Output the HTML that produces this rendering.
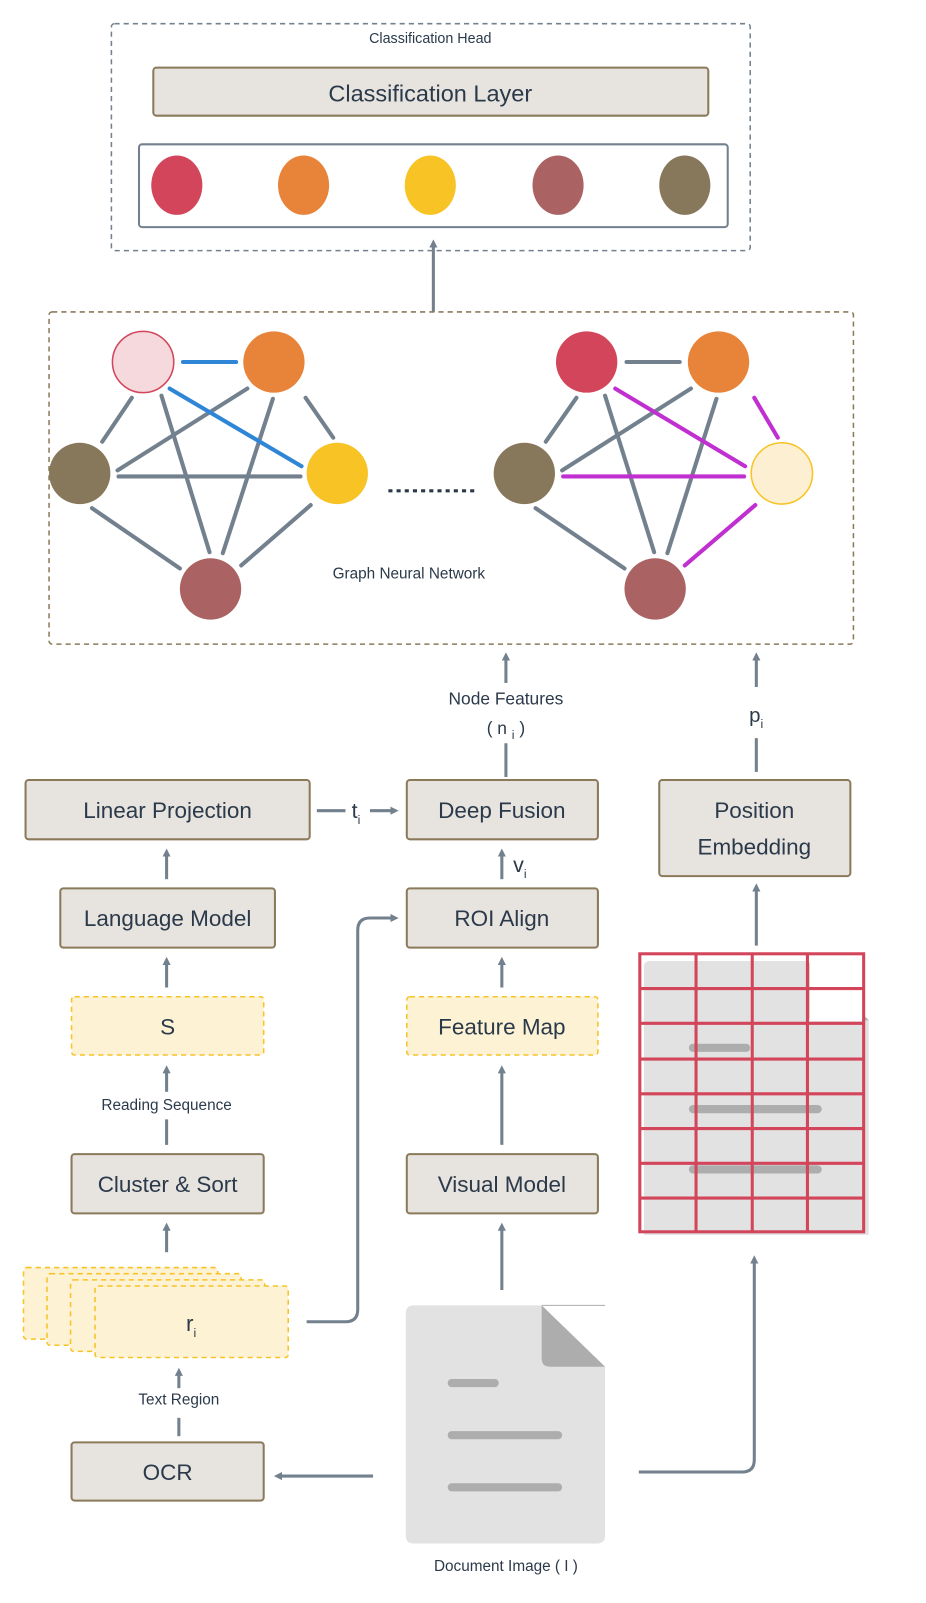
<!DOCTYPE html>
<html><head><meta charset="utf-8"><style>
html,body{margin:0;padding:0;background:#fff;}
svg{display:block;}
text{font-family:"Liberation Sans",sans-serif;fill:#2b3a4a;}
</style></head><body>
<svg width="926" height="1603" viewBox="0 0 906 1568" xmlns="http://www.w3.org/2000/svg">
<defs>
<marker id="ah" markerWidth="8" markerHeight="8" refX="4" refY="4" orient="auto" markerUnits="userSpaceOnUse" viewBox="0 0 8 8">
<path d="M0,0 L8,4 L0,8 Z" fill="#73818e"/></marker>
</defs>
<g stroke="#73818e" stroke-width="3" fill="none" stroke-linecap="round">
<!-- classification head -->
</g>
<rect x="109" y="23" width="625" height="222" rx="3" fill="none" stroke="#73818e" stroke-width="1.5" stroke-dasharray="5,4"/>
<text x="421" y="42" font-size="14" text-anchor="middle">Classification Head</text>
<rect x="150" y="66" width="543" height="47" rx="3" fill="#e7e3df" stroke="#8a7a5a" stroke-width="2"/>
<text x="421" y="99" font-size="23" text-anchor="middle">Classification Layer</text>
<rect x="136" y="141" width="576" height="81" rx="3" fill="#fff" stroke="#73818e" stroke-width="2"/>
<ellipse cx="173" cy="181" rx="25" ry="29" fill="#d2455a"/>
<ellipse cx="297" cy="181" rx="25" ry="29" fill="#e8843a"/>
<ellipse cx="421" cy="181" rx="25" ry="29" fill="#f7c325"/>
<ellipse cx="546" cy="181" rx="25" ry="29" fill="#ab6262"/>
<ellipse cx="670" cy="181" rx="25" ry="29" fill="#88785b"/>
<line x1="424" y1="305" x2="424" y2="238" stroke="#73818e" stroke-width="3" marker-end="url(#ah)"/>

<!-- GNN -->
<rect x="48" y="305" width="787" height="325" rx="3" fill="none" stroke="#8a7a5a" stroke-width="1.5" stroke-dasharray="5,4"/>
<g stroke="#73818e" stroke-width="4" stroke-linecap="round">
<line x1="129" y1="389" x2="100" y2="432"/>
<line x1="158" y1="387" x2="205" y2="540"/>
<line x1="242" y1="380" x2="115" y2="460"/>
<line x1="267" y1="390" x2="218" y2="541"/>
<line x1="299" y1="389" x2="326" y2="428"/>
<line x1="116" y1="466" x2="294" y2="466"/>
<line x1="90" y1="497" x2="176" y2="556"/>
<line x1="304" y1="494" x2="236" y2="553"/>
<line x1="613" y1="354" x2="665" y2="354"/>
<line x1="564" y1="389" x2="534" y2="432"/>
<line x1="592" y1="387" x2="640" y2="540"/>
<line x1="676" y1="380" x2="550" y2="460"/>
<line x1="701" y1="390" x2="653" y2="541"/>
<line x1="524" y1="497" x2="611" y2="556"/>
</g>
<g stroke="#2f86d6" stroke-width="4" stroke-linecap="round">
<line x1="179" y1="354" x2="231" y2="354"/>
<line x1="166" y1="380" x2="295" y2="456"/>
</g>
<g stroke="#c030d0" stroke-width="4" stroke-linecap="round">
<line x1="602" y1="380" x2="729" y2="456"/>
<line x1="738" y1="389" x2="761" y2="428"/>
<line x1="551" y1="466" x2="728" y2="466"/>
<line x1="739" y1="494" x2="670" y2="553"/>
</g>
<circle cx="140" cy="354" r="30" fill="#f5d9dc" stroke="#d2455a" stroke-width="1.5"/>
<circle cx="268" cy="354" r="30" fill="#e8843a"/>
<circle cx="78" cy="463" r="30" fill="#88785b"/>
<circle cx="330" cy="463" r="30" fill="#f7c325"/>
<circle cx="206" cy="576" r="30" fill="#ab6262"/>
<circle cx="574" cy="354" r="30" fill="#d2455a"/>
<circle cx="703" cy="354" r="30" fill="#e8843a"/>
<circle cx="513" cy="463" r="30" fill="#88785b"/>
<circle cx="765" cy="463" r="30" fill="#fdf0d2" stroke="#f7c325" stroke-width="1.5"/>
<circle cx="641" cy="576" r="30" fill="#ab6262"/>
<line x1="380" y1="480" x2="466" y2="480" stroke="#2b3a4a" stroke-width="3" stroke-dasharray="4,4"/>
<text x="400" y="566" font-size="15" text-anchor="middle">Graph Neural Network</text>

<!-- arrows middle -->
<g stroke="#73818e" stroke-width="3" fill="none">
<line x1="495" y1="668" x2="495" y2="642" marker-end="url(#ah)"/>
<line x1="495" y1="760" x2="495" y2="727"/>
<line x1="740" y1="755" x2="740" y2="642" marker-end="url(#ah)" stroke-dasharray="0"/>
</g>
<rect x="720" y="672" width="40" height="50" fill="#fff"/>
<text x="495" y="689" font-size="17" text-anchor="middle">Node Features</text>
<text x="495" y="718" font-size="17" text-anchor="middle">( n <tspan font-size="12" dy="5">i</tspan><tspan dy="-5"> )</tspan></text>
<text x="733" y="706" font-size="20">p<tspan font-size="12" dy="6">i</tspan></text>

<g fill="#e7e3df" stroke="#8a7a5a" stroke-width="2">
<rect x="25" y="763" width="278" height="58" rx="3"/>
<rect x="398" y="763" width="187" height="58" rx="3"/>
<rect x="645" y="763" width="187" height="94" rx="3"/>
<rect x="59" y="869" width="210" height="58" rx="3"/>
<rect x="398" y="869" width="187" height="58" rx="3"/>
<rect x="398" y="1129" width="187" height="58" rx="3"/>
<rect x="70" y="1129" width="188" height="58" rx="3"/>
<rect x="70" y="1411" width="188" height="57" rx="3"/>
</g>
<g fill="#fdf2d4" stroke="#f7c325" stroke-width="1.5" stroke-dasharray="5,4">
<rect x="70" y="975" width="188" height="57" rx="3"/>
<rect x="398" y="975" width="187" height="57" rx="3"/>
<rect x="23" y="1240" width="190" height="70" rx="3"/>
<rect x="46" y="1246" width="190" height="70" rx="3"/>
<rect x="69" y="1252" width="190" height="70" rx="3"/>
<rect x="93" y="1258" width="189" height="70" rx="3"/>
</g>
<g font-size="22" text-anchor="middle">
<text x="164" y="800">Linear Projection</text>
<text x="491" y="800">Deep Fusion</text>
<text x="738" y="800">Position</text>
<text x="738" y="836">Embedding</text>
<text x="164" y="906">Language Model</text>
<text x="491" y="906">ROI Align</text>
<text x="164" y="1012">S</text>
<text x="491" y="1012">Feature Map</text>
<text x="164" y="1166">Cluster &amp; Sort</text>
<text x="491" y="1166">Visual Model</text>
<text x="164" y="1448">OCR</text>
</g>
<text x="182" y="1302" font-size="22">r<tspan font-size="12" dy="6">i</tspan></text>
<text x="344" y="800" font-size="21">t<tspan font-size="12" dy="6">i</tspan></text>
<text x="502" y="853" font-size="21">v<tspan font-size="12" dy="6">i</tspan></text>
<text x="163" y="1086" font-size="15" text-anchor="middle">Reading Sequence</text>
<text x="175" y="1374" font-size="15" text-anchor="middle">Text Region</text>
<text x="495" y="1537" font-size="15" text-anchor="middle">Document Image ( I )</text>

<g stroke="#73818e" stroke-width="3" fill="none">
<line x1="310" y1="793" x2="338" y2="793"/>
<line x1="362" y1="793" x2="386" y2="793" marker-end="url(#ah)"/>
<line x1="491" y1="860" x2="491" y2="834" marker-end="url(#ah)"/>
<line x1="163" y1="860" x2="163" y2="834" marker-end="url(#ah)"/>
<line x1="163" y1="966" x2="163" y2="940" marker-end="url(#ah)"/>
<line x1="491" y1="966" x2="491" y2="940" marker-end="url(#ah)"/>
<line x1="163" y1="1068" x2="163" y2="1046" marker-end="url(#ah)"/>
<line x1="163" y1="1120" x2="163" y2="1095"/>
<line x1="491" y1="1120" x2="491" y2="1046" marker-end="url(#ah)"/>
<line x1="163" y1="1225" x2="163" y2="1200" marker-end="url(#ah)"/>
<line x1="491" y1="1262" x2="491" y2="1200" marker-end="url(#ah)"/>
<path d="M300,1293 H338 Q350,1293 350,1281 V910 Q350,898 362,898 H386" marker-end="url(#ah)"/>
<line x1="175" y1="1358" x2="175" y2="1342" marker-end="url(#ah)"/>
<line x1="175" y1="1405" x2="175" y2="1387"/>
<line x1="365" y1="1444" x2="272" y2="1444" marker-end="url(#ah)"/>
<path d="M625,1440 H726 Q738,1440 738,1428 V1232" marker-end="url(#ah)"/>
<line x1="740" y1="925" x2="740" y2="868" marker-end="url(#ah)"/>
</g>

<!-- document image -->
<path d="M405,1277 H530 L592,1337 V1502 Q592,1510 584,1510 H405 Q397,1510 397,1502 V1285 Q397,1277 405,1277 Z" fill="#e2e2e2"/>
<path d="M530,1277 L592,1337 H538 Q530,1337 530,1329 Z" fill="#adadad"/>
<line x1="530" y1="1277" x2="592" y2="1277" stroke="#adadad" stroke-width="1"/>
<g stroke="#adadad" stroke-width="8" stroke-linecap="round">
<line x1="442" y1="1353" x2="484" y2="1353"/>
<line x1="442" y1="1404" x2="546" y2="1404"/>
<line x1="442" y1="1455" x2="546" y2="1455"/>
</g>

<!-- grid doc -->
<path d="M636,940 H790 L850,998 V1208 H630 V946 Q630,940 636,940 Z" fill="#e2e2e2"/>
<path d="M790,940 L850,998 H796 Q790,998 790,992 Z" fill="#adadad"/>
<rect x="792" y="935" width="52" height="64" fill="#fff"/>
<g stroke="#adadad" stroke-width="8" stroke-linecap="round">
<line x1="678" y1="1025" x2="730" y2="1025"/>
<line x1="678" y1="1085" x2="800" y2="1085"/>
<line x1="678" y1="1144" x2="800" y2="1144"/>
</g>
<g stroke="#d2455a" stroke-width="3" fill="none">
<rect x="626" y="933" width="219" height="272"/>
<line x1="681" y1="933" x2="681" y2="1205"/>
<line x1="736" y1="933" x2="736" y2="1205"/>
<line x1="790" y1="933" x2="790" y2="1205"/>
<line x1="626" y1="967" x2="845" y2="967"/>
<line x1="626" y1="1001" x2="845" y2="1001"/>
<line x1="626" y1="1036" x2="845" y2="1036"/>
<line x1="626" y1="1070" x2="845" y2="1070"/>
<line x1="626" y1="1104" x2="845" y2="1104"/>
<line x1="626" y1="1138" x2="845" y2="1138"/>
<line x1="626" y1="1172" x2="845" y2="1172"/>
</g>
</svg>
</body></html>
